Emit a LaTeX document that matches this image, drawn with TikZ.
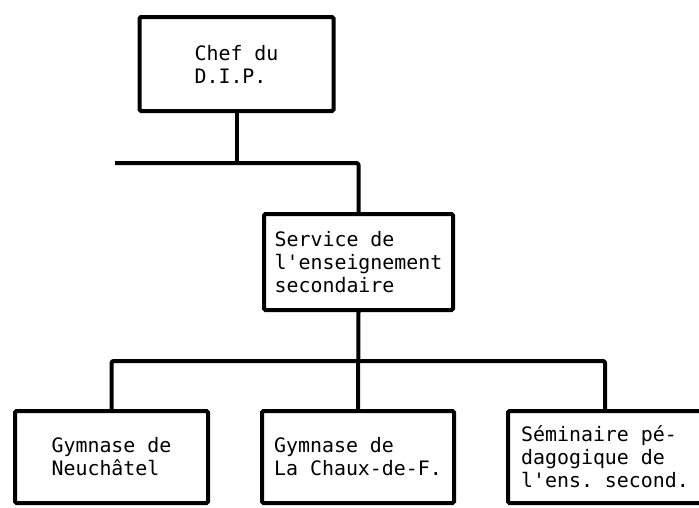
\documentclass[tikz,border=0pt]{standalone}
\usepackage{fontspec}
\setmonofont{DejaVu Sans Mono}
\begin{document}
\begin{tikzpicture}[x=1pt,y=-1pt,
  orgbox/.style={draw, line width=4pt, rounded corners=1.5pt, inner sep=0pt,
    align=left, font=\ttfamily\fontsize{19.9}{23}\selectfont},
  link/.style={line width=4pt, line join=round, rounded corners=2pt}]
  \clip (0,0) rectangle (699,507);
  \fill[white] (0,0) rectangle (699,507);

  % boxes
  \node[orgbox, minimum width=194pt, minimum height=94pt] (chef) at (236.5,64)
    {Chef du\\D.I.P.};
  \node[orgbox, minimum width=189pt, minimum height=96pt] (service) at (358.5,262)
    {Service de\\l'enseignement\\secondaire};
  \node[orgbox, minimum width=193pt, minimum height=92pt] (gn) at (111.5,457)
    {Gymnase de\\Neuchâtel};
  \node[orgbox, minimum width=192pt, minimum height=92pt] (gc) at (358,457)
    {Gymnase de\\La Chaux-de-F.};
  \node[orgbox, minimum width=194pt, minimum height=92pt] (sp) at (605,457)
    {Séminaire pé-\\dagogique de\\l'ens. second.};

  % connectors
  \coordinate (stub) at (115,163);
  \coordinate (bar) at (0,361);
  \draw[link] (chef.south) -- (chef.south |- stub);
  \draw[link] (stub) -- (service.north |- stub) -- (service.north);
  \draw[link] (service.south) -- (gc.north);
  \draw[link] (gn.north) -- (gn.north |- bar) -- (sp.north |- bar) -- (sp.north);
\end{tikzpicture}
\end{document}
